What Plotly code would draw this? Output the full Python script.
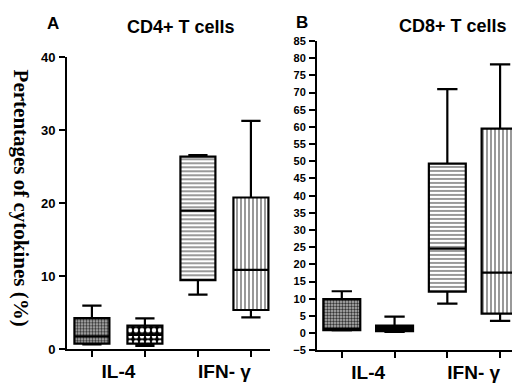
import plotly.graph_objects as go

# ---- data ----
categories = ["IL-4", "IFN- γ"]
# Panel A: CD4+ T cells, four boxes (IL-4 x2, IFN-γ x2)
a_lower = [0.7, 0.5, 7.5, 4.4]
a_q1 = [0.8, 0.8, 9.5, 5.4]
a_median = [1.8, 2.0, 19.0, 10.9]
a_q3 = [4.3, 3.25, 26.4, 20.8]
a_upper = [6.0, 4.25, 26.6, 31.3]
# Panel B: CD8+ T cells
b_lower = [0.8, 0.4, 8.6, 3.6]
b_q1 = [0.9, 0.6, 12.1, 5.7]
b_median = [1.3, 1.0, 24.6, 17.6]
b_q3 = [9.9, 2.2, 49.3, 59.5]
b_upper = [12.2, 4.85, 71.0, 78.2]

a_ticks = [0, 10, 20, 30, 40]
b_ticks = list(range(-5, 90, 5))

# fill styles per box
patterns = [
    dict(shape=".", fgcolor="#333", bgcolor="#bbb", size=3, solidity=0.5),
    dict(shape=".", fgcolor="white", bgcolor="black", size=6, solidity=0.45),
    dict(shape="-", fgcolor="#555", bgcolor="white", size=4, solidity=0.3),
    dict(shape="|", fgcolor="#555", bgcolor="white", size=4, solidity=0.3),
]
patterns_b = [
    dict(shape=".", fgcolor="#333", bgcolor="#bbb", size=3, solidity=0.5),
    dict(shape="", fgcolor="black", bgcolor="black", size=3, solidity=0.5),
    dict(shape="-", fgcolor="#555", bgcolor="white", size=4, solidity=0.3),
    dict(shape="|", fgcolor="#555", bgcolor="white", size=4, solidity=0.3),
]

W, H = 520, 385
fig = go.Figure()

def add_panel(lower, q1, med, q3, upper, pats, xa, ya, bw):
    pos = [i + 1 for i in range(len(q1))]
    for i, p in enumerate(pos):
        pat = dict(pats[i])
        pat["fillmode"] = "replace"
        fig.add_trace(go.Bar(
            x=[p], y=[q3[i] - q1[i]], base=[q1[i]], width=bw,
            marker=dict(color=pat["bgcolor"] if pat["shape"] == "" else "white",
                        line=dict(width=0), pattern=pat),
            xaxis=xa, yaxis=ya, showlegend=False, hoverinfo="skip"))
        fig.add_trace(go.Box(
            x=[p], q1=[q1[i]], median=[med[i]], q3=[q3[i]],
            lowerfence=[lower[i]], upperfence=[upper[i]],
            width=bw, whiskerwidth=0.55, boxpoints=False,
            fillcolor="rgba(0,0,0,0)", line=dict(color="black", width=2.2),
            xaxis=xa, yaxis=ya, showlegend=False))

add_panel(a_lower, a_q1, a_median, a_q3, a_upper, patterns, "x", "y", 0.66)
add_panel(b_lower, b_q1, b_median, b_q3, b_upper, patterns_b, "x2", "y2", 0.7)

tickfont = dict(family="Liberation Sans", size=12, color="black", weight="bold")
labfont = dict(family="Liberation Sans", size=19, color="black", weight="bold")

def xaxis(domain, rng):
    return dict(domain=domain, range=rng, showline=True, linecolor="black",
                linewidth=2, ticks="", tickvals=[1.5, 3.5], ticktext=categories,
                tickfont=labfont, ticklabelstandoff=4, showgrid=False, zeroline=False,
                minor=dict(tickvals=[1, 2, 3, 4], ticks="outside", ticklen=6,
                           tickwidth=2, tickcolor="black", showgrid=False),
                fixedrange=True)

def yaxis(domain, rng, ticks, anchor, fsize):
    f = dict(tickfont)
    f["size"] = fsize
    return dict(domain=domain, range=rng, anchor=anchor, showline=True,
                linecolor="black", linewidth=2, ticks="outside", ticklen=6,
                tickwidth=2, tickcolor="black", tickvals=ticks, tickfont=f,
                showgrid=False, zeroline=False, ticklabelstandoff=1)

fig.update_layout(
    width=W, height=H, margin=dict(l=0, r=0, t=0, b=0),
    paper_bgcolor="white", plot_bgcolor="white", barmode="overlay",
    xaxis=xaxis([59 / W, 262 / W], [0.53, 4.36]) | dict(anchor="y"),
    yaxis=yaxis([(H - 348) / H, (H - 44) / H], [0, 40], a_ticks, "x", 13),
    xaxis2=xaxis([309 / W, 519 / W], [0.53, 4.51]) | dict(anchor="y2"),
    yaxis2=yaxis([(H - 349) / H, (H - 27) / H], [-5, 85], b_ticks, "x2", 11),
    font=dict(family="Liberation Sans", color="black"),
)

def ann(text, x, y, size, family="Liberation Sans", angle=0):
    fig.add_annotation(text=text, x=x / W, y=1 - y / H, xref="paper", yref="paper",
                       showarrow=False, textangle=angle, xanchor="center", yanchor="middle",
                       font=dict(family=family, size=size, color="black", weight="bold"))

ann("A", 45, 8.5, 17)
ann("CD4+ T cells", 173, 12, 18)
ann("B", 294, 7.5, 17)
ann("CD8+ T cells", 445, 11.5, 18)
ann("Pertentages of cytokines (%)", 13, 190, 21, family="Liberation Serif", angle=90)

fig.write_html("out.html")
